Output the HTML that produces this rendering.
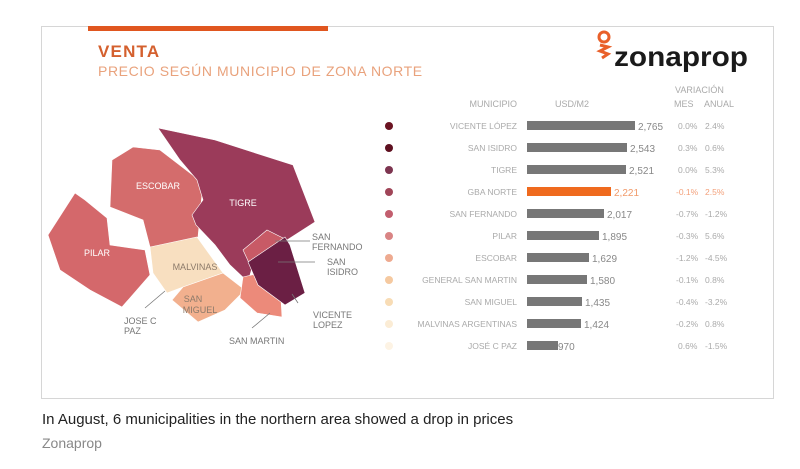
<!DOCTYPE html>
<html><head><meta charset="utf-8"><style>
body{margin:0;background:#fff;width:800px;height:464px;overflow:hidden;font-family:"Liberation Sans",sans-serif}
</style></head><body>
<svg width="800" height="464" xmlns="http://www.w3.org/2000/svg" font-family="Liberation Sans, sans-serif">
<rect x="41.5" y="26.5" width="732" height="372" fill="#fff" stroke="#d6d6d6"/>
<rect x="88" y="26" width="240" height="5" fill="#e0561f"/>
<text x="98" y="57" font-size="17" font-weight="bold" fill="#d4602e" letter-spacing="1.2">VENTA</text>
<text x="98" y="76" font-size="14" fill="#e9a27c" letter-spacing="0.6">PRECIO SEGÚN MUNICIPIO DE ZONA NORTE</text>
<!-- logo -->
<circle cx="604" cy="37" r="5" fill="none" stroke="#e9602a" stroke-width="3"/>
<path d="M600 45 L608 47 L600 51 L608 54 L602 58" fill="none" stroke="#e9602a" stroke-width="3"/>
<text x="614" y="66" font-size="28" font-weight="bold" fill="#1a1a1a" textLength="134" lengthAdjust="spacingAndGlyphs">zonaprop</text>
<!-- map -->
<g stroke="#fff" stroke-width="0.6">
<polygon points="48,235 75,193 85,200 107,218 110,245 145,250 150,275 122,307 90,290 60,270" fill="#d4686b"/>
<polygon points="112,160 133,147 160,150 203,183 198,237 173,250 150,247 143,220 110,207" fill="#d46c6c"/>
<polygon points="158,128 215,140 293,165 315,222 287,240 260,240 248,282 230,265 215,245 196,225 192,215 203,200 197,180 180,160" fill="#9b3b5a"/>
<polygon points="150,247 197,237 223,273 183,287 167,293 153,273" fill="#f8dfc0"/>
<polygon points="183,287 223,273 245,290 225,310 198,322 172,300" fill="#f2b08e"/>
<polygon points="243,277 260,273 280,283 282,317 257,313 240,298" fill="#ec8a7a"/>
<polygon points="243,250 267,230 287,240 250,265" fill="#c85a66"/>
<polygon points="248,262 285,237 290,245 305,293 285,305 258,285" fill="#6b1f44"/>
</g>
<g fill="#fff" font-size="9" text-anchor="middle">
<text x="158" y="189">ESCOBAR</text><text x="243" y="206">TIGRE</text><text x="97" y="256">PILAR</text>
</g>
<g fill="#8c7a6a" font-size="9" text-anchor="middle"><text x="195" y="270">MALVINAS</text><text x="193" y="302">SAN</text><text x="200" y="313">MIGUEL</text></g>
<g stroke="#777" stroke-width="0.8">
<line x1="275" y1="241" x2="310" y2="241"/><line x1="278" y1="262" x2="315" y2="262"/><line x1="292" y1="294" x2="298" y2="303"/><line x1="270" y1="313" x2="252" y2="328"/><line x1="165" y1="291" x2="145" y2="308"/>
</g>
<g fill="#777" font-size="9">
<text x="312" y="240">SAN</text><text x="312" y="250">FERNANDO</text>
<text x="327" y="265">SAN</text><text x="327" y="275">ISIDRO</text>
<text x="313" y="318">VICENTE</text><text x="313" y="328">LOPEZ</text>
<text x="229" y="344">SAN MARTIN</text>
<text x="124" y="324">JOSE C</text><text x="124" y="334">PAZ</text>
</g>
<!-- table -->
<g fill="#aaa" font-size="9">
<text x="517" y="107" text-anchor="end">MUNICIPIO</text>
<text x="555" y="107">USD/M2</text>
<text x="675" y="93">VARIACIÓN</text>
<text x="674" y="107">MES</text><text x="704" y="107">ANUAL</text>
</g>
<g font-size="8.5" fill="#aaa">
<circle cx="389" cy="126" r="4" fill="#6b1422"/><text x="517" y="129" text-anchor="end">VICENTE LÓPEZ</text><rect x="527" y="121" width="108" height="9" fill="#777"/><text x="638" y="130" font-size="10" fill="#888">2,765</text><text x="678" y="129">0.0%</text><text x="705" y="129">2.4%</text>
<circle cx="389" cy="148" r="4" fill="#5e1020"/><text x="517" y="151" text-anchor="end">SAN ISIDRO</text><rect x="527" y="143" width="100" height="9" fill="#777"/><text x="630" y="152" font-size="10" fill="#888">2,543</text><text x="678" y="151">0.3%</text><text x="705" y="151">0.6%</text>
<circle cx="389" cy="170" r="4" fill="#7d3550"/><text x="517" y="173" text-anchor="end">TIGRE</text><rect x="527" y="165" width="99" height="9" fill="#777"/><text x="629" y="174" font-size="10" fill="#888">2,521</text><text x="678" y="173">0.0%</text><text x="705" y="173">5.3%</text>
<circle cx="389" cy="192" r="4" fill="#a04558"/><text x="517" y="195" text-anchor="end">GBA NORTE</text><rect x="527" y="187" width="84" height="9" fill="#ef6a1e"/><text x="614" y="196" font-size="10" fill="#f19a6a">2,221</text><text x="676" y="195" fill="#f3a07a">-0.1%</text><text x="705" y="195" fill="#f3a07a">2.5%</text>
<circle cx="389" cy="214" r="4" fill="#c25e6e"/><text x="517" y="217" text-anchor="end">SAN FERNANDO</text><rect x="527" y="209" width="77" height="9" fill="#777"/><text x="607" y="218" font-size="10" fill="#888">2,017</text><text x="676" y="217">-0.7%</text><text x="705" y="217">-1.2%</text>
<circle cx="389" cy="236" r="4" fill="#d98484"/><text x="517" y="239" text-anchor="end">PILAR</text><rect x="527" y="231" width="72" height="9" fill="#777"/><text x="602" y="240" font-size="10" fill="#888">1,895</text><text x="676" y="239">-0.3%</text><text x="705" y="239">5.6%</text>
<circle cx="389" cy="258" r="4" fill="#eeaa90"/><text x="517" y="261" text-anchor="end">ESCOBAR</text><rect x="527" y="253" width="62" height="9" fill="#777"/><text x="592" y="262" font-size="10" fill="#888">1,629</text><text x="676" y="261">-1.2%</text><text x="705" y="261">-4.5%</text>
<circle cx="389" cy="280" r="4" fill="#f5c9a0"/><text x="517" y="283" text-anchor="end">GENERAL SAN MARTIN</text><rect x="527" y="275" width="60" height="9" fill="#777"/><text x="590" y="284" font-size="10" fill="#888">1,580</text><text x="676" y="283">-0.1%</text><text x="705" y="283">0.8%</text>
<circle cx="389" cy="302" r="4" fill="#f8dcb5"/><text x="517" y="305" text-anchor="end">SAN MIGUEL</text><rect x="527" y="297" width="55" height="9" fill="#777"/><text x="585" y="306" font-size="10" fill="#888">1,435</text><text x="676" y="305">-0.4%</text><text x="705" y="305">-3.2%</text>
<circle cx="389" cy="324" r="4" fill="#fbecd5"/><text x="517" y="327" text-anchor="end">MALVINAS ARGENTINAS</text><rect x="527" y="319" width="54" height="9" fill="#777"/><text x="584" y="328" font-size="10" fill="#888">1,424</text><text x="676" y="327">-0.2%</text><text x="705" y="327">0.8%</text>
<circle cx="389" cy="346" r="4" fill="#fdf3e4"/><text x="517" y="349" text-anchor="end">JOSÉ C PAZ</text><rect x="527" y="341" width="31" height="9" fill="#777"/><text x="558" y="350" font-size="10" fill="#888">970</text><text x="678" y="349">0.6%</text><text x="705" y="349">-1.5%</text>
</g>
<text x="42" y="424" font-size="15" fill="#222">In August, 6 municipalities in the northern area showed a drop in prices</text>
<text x="42" y="448" font-size="14" fill="#888">Zonaprop</text>
</svg>
</body></html>
